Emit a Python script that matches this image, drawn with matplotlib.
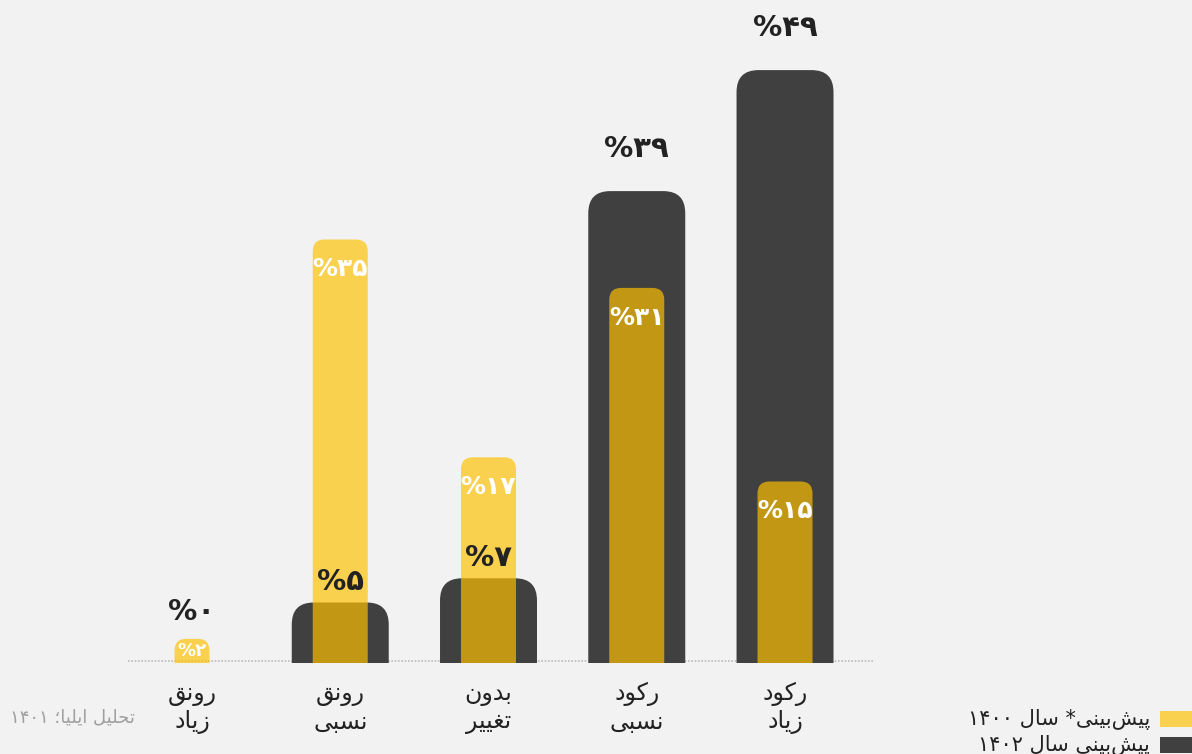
import matplotlib
matplotlib.use("Agg")
import matplotlib.pyplot as plt
from matplotlib.patches import FancyBboxPatch, Rectangle

# --- data ---
categories = ["رونق زیاد", "رونق نسبی", "بدون تغییر", "رکود نسبی", "رکود زیاد"]
forecast_1400 = [2, 35, 17, 31, 15]
forecast_1402 = [0, 5, 7, 39, 49]
legend_labels = ["پیش‌بینی* سال ۱۴۰۰", "پیش‌بینی سال ۱۴۰۲"]
source_note = "تحلیل ایلیا؛ ۱۴۰۱"

BG = "#F2F2F2"
DARK = "#404040"
YELLOW = "#FFC200"
YELLOW_ALPHA = 0.68

# minimal arabic-script shaping (matplotlib has no bidi / joining support)
DUAL = {
    "ب": "\uFE8F\uFE90\uFE91\uFE92", "پ": "\uFB56\uFB57\uFB58\uFB59",
    "ت": "\uFE95\uFE96\uFE97\uFE98", "ح": "\uFEA1\uFEA2\uFEA3\uFEA4",
    "س": "\uFEB1\uFEB2\uFEB3\uFEB4", "ش": "\uFEB5\uFEB6\uFEB7\uFEB8",
    "غ": "\uFECD\uFECE\uFECF\uFED0", "ق": "\uFED5\uFED6\uFED7\uFED8",
    "ک": "\uFB8E\uFB8F\uFB90\uFB91", "ل": "\uFEDD\uFEDE\uFEDF\uFEE0",
    "ن": "\uFEE5\uFEE6\uFEE7\uFEE8", "ی": "\uFBFC\uFBFD\uFBFE\uFBFF",
}
RIGHT = {
    "ا": "\uFE8D\uFE8E", "د": "\uFEA9\uFEAA", "ر": "\uFEAD\uFEAE",
    "ز": "\uFEAF\uFEB0", "و": "\uFEED\uFEEE",
}
DIGITS = "۰۱۲۳۴۵۶۷۸۹"


def shape(s):
    out = []
    for i, ch in enumerate(s):
        if ch == "\u200c":
            continue
        if ch not in DUAL and ch not in RIGHT:
            out.append(ch)
            continue
        prev = s[i - 1] if i > 0 else ""
        nxt = s[i + 1] if i + 1 < len(s) else ""
        join_prev = prev in DUAL
        join_next = ch in DUAL and (nxt in DUAL or nxt in RIGHT)
        forms = DUAL.get(ch) or RIGHT.get(ch)
        if join_prev and join_next:
            out.append(forms[3])
        elif join_prev:
            out.append(forms[1])
        elif join_next:
            out.append(forms[2])
        else:
            out.append(forms[0])
    # visual order: reverse, but keep digit runs left-to-right
    rev = "".join(out)[::-1]
    res, run = [], ""
    for ch in rev:
        if ch in DIGITS:
            run += ch
        else:
            res.append(run[::-1])
            run = ""
            res.append(ch)
    res.append(run[::-1])
    return "".join(res)


def fa_pct(v):
    return "%" + str(v).translate(str.maketrans("0123456789", DIGITS))


W, H = 1192, 754
fig = plt.figure(figsize=(W / 100, H / 100), dpi=100, facecolor=BG)
ax = fig.add_axes([128 / W, (754 - 663) / H, (873 - 128) / W, 663 / H])
ax.set_facecolor(BG)

ppx = 148.3           # pixels per category
ppy = 12.1            # pixels per percent
ax.set_xlim(-64 / ppx, 4 + 88 / ppx)
ax.set_ylim(0, 663 / ppy)
aspect = ppx / ppy
ax.axis("off")

ax.axhline(0.15, color="#BBBBBB", linestyle=(0, (1, 1)), lw=1.2, zorder=1)

font = "DejaVu Sans"
ext = 4  # bottom extension hidden below baseline


def rounded_bar(x, h, w, r_px, color, alpha, z):
    p = FancyBboxPatch((x - w / 2, -ext), w, h + ext,
                       boxstyle=f"round,pad=0,rounding_size={r_px / ppx}",
                       mutation_aspect=aspect, facecolor=color, edgecolor="none",
                       alpha=alpha, zorder=z)
    ax.add_patch(p)


for i, (cat, y0, y2) in enumerate(zip(categories, forecast_1400, forecast_1402)):
    if y2 > 0:
        rounded_bar(i, y2, 97 / ppx, 22, DARK, 1.0, 2)
    yw = 35 / ppx if y0 < 5 else 55 / ppx
    rounded_bar(i, y0, yw, 12, YELLOW, YELLOW_ALPHA, 3)

    # label of the 1402 series above its bar
    base = y2 if y2 > 0 else y0
    off = 42 if y2 > 20 else (20 if y2 > 0 else 27)
    ax.annotate(fa_pct(y2), (i, base), xytext=(0, off), textcoords="offset pixels",
                ha="center", va="center", fontsize=21, fontweight="bold",
                color="#222222", family=font, zorder=5, annotation_clip=False)
    # label of the 1400 series inside its bar
    off_w = min(30, y0 * ppy / 2)
    ax.annotate(fa_pct(y0), (i, y0), xytext=(0, -off_w), textcoords="offset pixels",
                ha="center", va="center", fontsize=18 if y0 >= 5 else 13,
                fontweight="bold", color="white", family=font, zorder=5,
                annotation_clip=False)

    lines = "\n".join(shape(w) for w in cat.split(" "))
    ax.annotate(lines, (i, 0), xytext=(0, -45), textcoords="offset pixels",
                ha="center", va="center", fontsize=17, color="#222222",
                family=font, linespacing=1.2, annotation_clip=False)

fig.text(10 / W, 1 - 717 / H, shape(source_note), ha="left", va="center",
         fontsize=13, color="#A0A0A0", family=font)

for k, (lab, col, a) in enumerate(zip(legend_labels, [YELLOW, DARK], [YELLOW_ALPHA, 1.0])):
    yc = 719 + 26 * k
    fig.add_artist(Rectangle((1160 / W, 1 - (yc + 8) / H), 40 / W, 16 / H,
                             transform=fig.transFigure, facecolor=col, alpha=a,
                             edgecolor="none"))
    fig.text(1150 / W, 1 - yc / H, shape(lab), ha="right", va="center",
             fontsize=15, color="#222222", family=font)

fig.savefig("out.png", dpi=100, facecolor=BG)
